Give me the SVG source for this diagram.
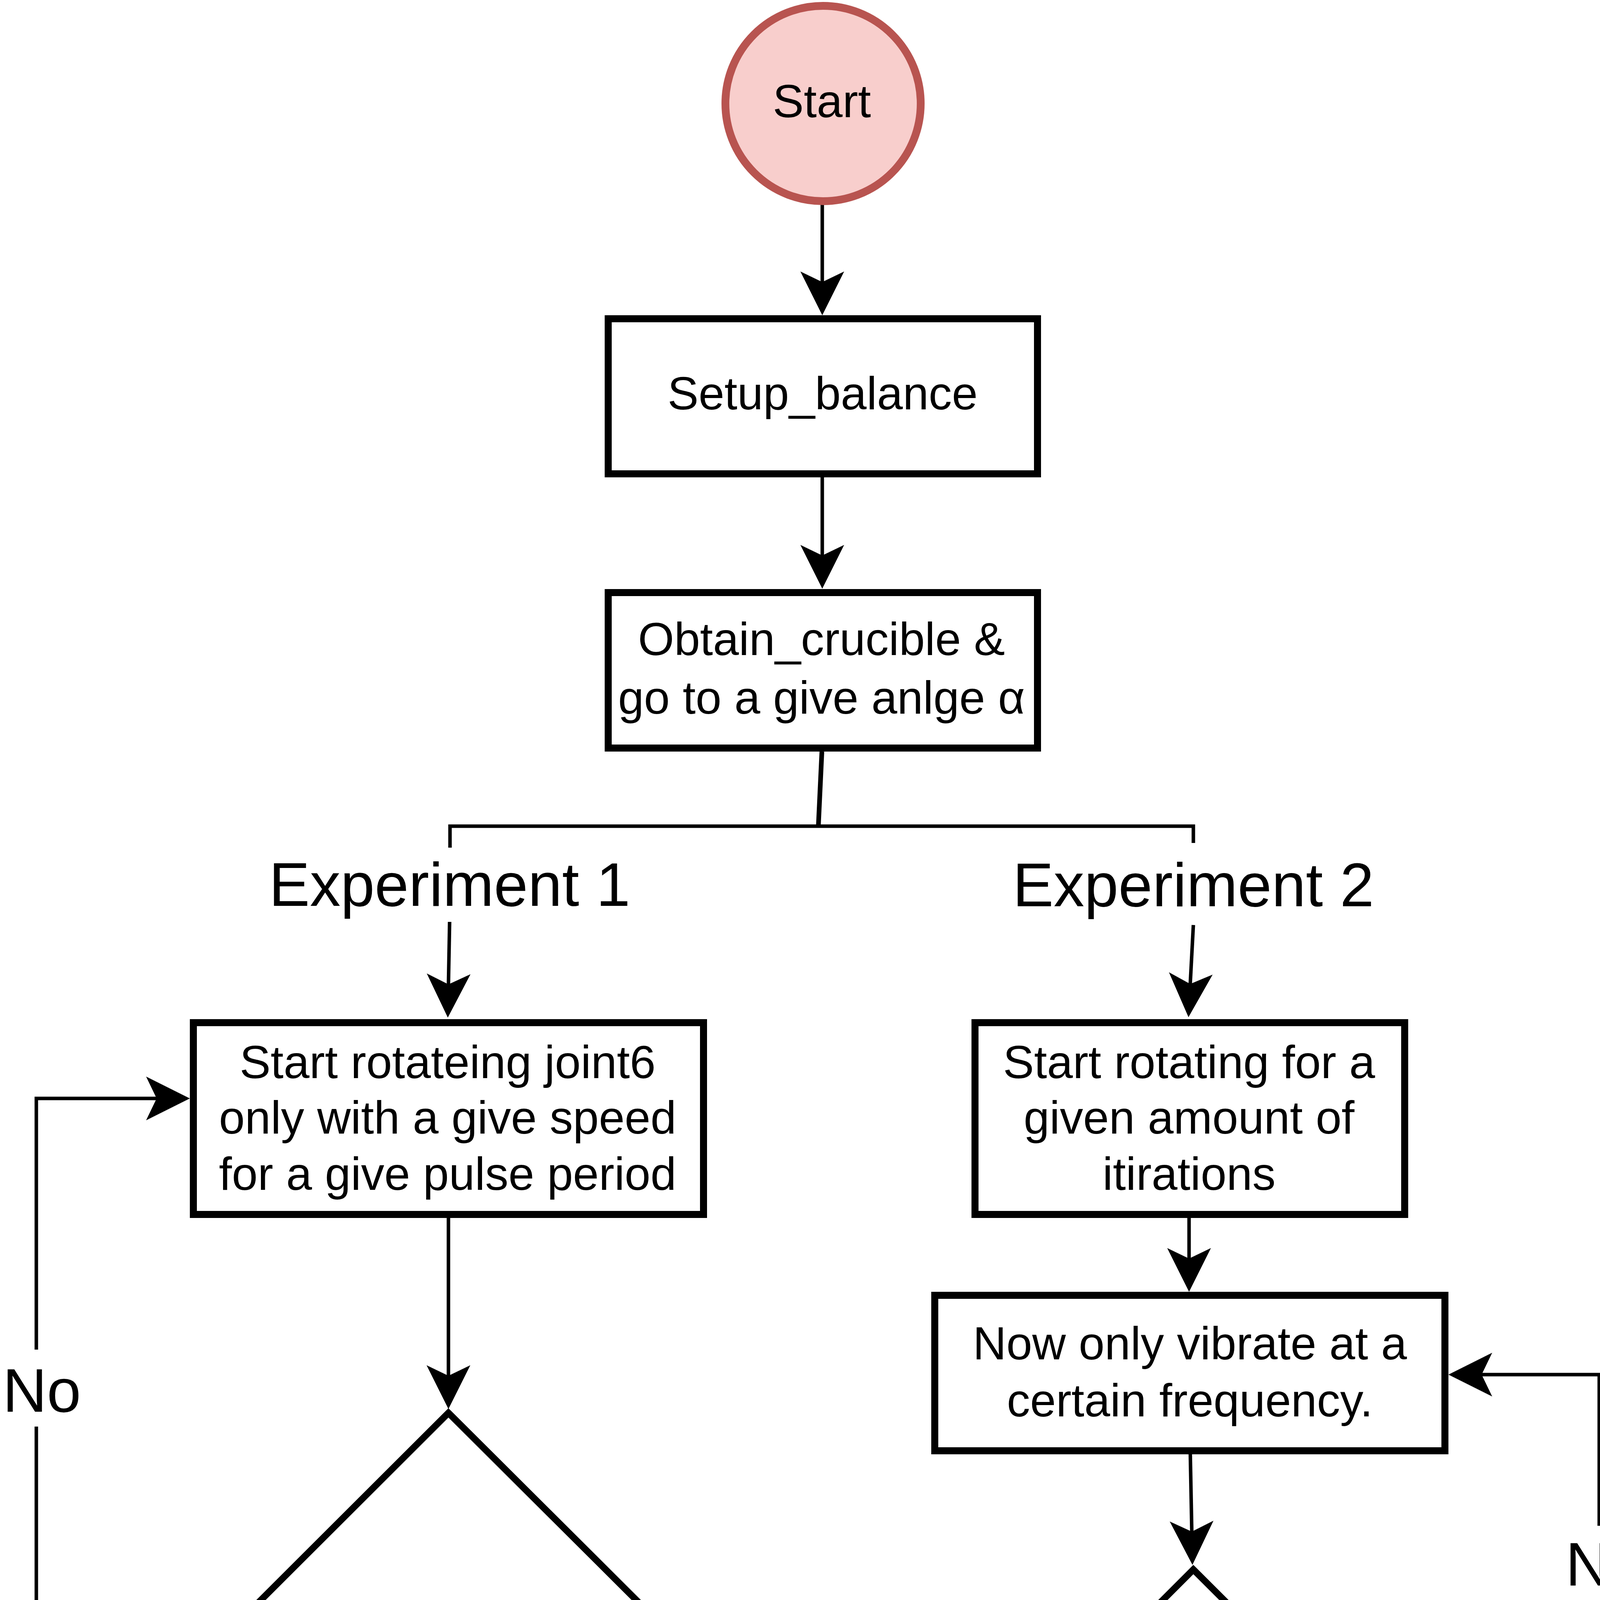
<svg xmlns="http://www.w3.org/2000/svg" width="4210" height="7020" viewBox="0 0 4210 7020">
<style>
.bg{fill:#ffffff}
.box{fill:#ffffff;stroke:#000000;stroke-width:18}
.dia{fill:#ffffff;stroke:#000000;stroke-width:17;stroke-linejoin:miter}
.term{fill:#f8cecc;stroke:#b85450;stroke-width:20}
.edge{fill:none;stroke:#000000;stroke-width:9}
.t{font-family:"Liberation Sans",Arial,sans-serif;font-size:119px;fill:#000000;text-anchor:middle}
.lbl{font-family:"Liberation Sans",Arial,sans-serif;font-size:157px;fill:#000000;text-anchor:middle}
</style>
<defs>
<marker id="arr" markerUnits="userSpaceOnUse" viewBox="-27 -56 112 112" refX="0" refY="0" markerWidth="112" markerHeight="112" orient="auto" overflow="visible">
<path d="M85,0 L-27,-56 L0,0 L-27,56 Z" fill="#000000"/>
</marker>
</defs>
<rect class="bg" x="0" y="0" width="4210" height="7020"/>

<g id="connectors">
<path class="edge" d="M2105,515 V722" marker-end="url(#arr)"/>
<path class="edge" d="M2105,1213 V1422" marker-end="url(#arr)"/>
<path class="edge" style="stroke-width:12" d="M2104,1924 L2095,2115"/>
<path class="edge" d="M1152,2170 V2115 H3055 V2158"/>
<path class="edge" d="M1151,2360 L1148,2520" marker-end="url(#arr)"/>
<path class="edge" d="M3055,2368 L3047,2519" marker-end="url(#arr)"/>
<path class="edge" d="M1148,3109 V3522" marker-end="url(#arr)"/>
<path class="edge" d="M602,4153 H93 V3652"/>
<path class="edge" d="M93,3455 V2812 H401" marker-end="url(#arr)"/>
<path class="edge" d="M1148,4687 V4808"/>
<path class="edge" d="M1148,5000 V5221" marker-end="url(#arr)"/>
<path class="edge" d="M3044,3109 V3222" marker-end="url(#arr)"/>
<path class="edge" d="M3047,3714 L3051,3921" marker-end="url(#arr)"/>
<path class="edge" d="M3601,4554 H4094 V4101"/>
<path class="edge" d="M4094,3906 V3519 H3793" marker-end="url(#arr)"/>
<path class="edge" d="M3056,5094 V5169"/>
<path class="edge" d="M3056,5360 V5463 H1665" marker-end="url(#arr)"/>
<path class="edge" d="M1148,5615 V5824" marker-end="url(#arr)"/>
<path class="edge" d="M1148,6215 V6430" marker-end="url(#arr)"/>
</g>

<g id="edge-labels">
<text class="lbl" x="1151" y="2319">Experiment 1</text>
<text class="lbl" x="3055" y="2320">Experiment 2</text>
<text class="lbl" x="107" y="3614">No</text>
<text class="lbl" x="4108" y="4059">No</text>
<text class="lbl" x="1150" y="4960">Yes</text>
<text class="lbl" x="3073" y="5320">Yes</text>
</g>

<g id="start">
<circle class="term" cx="2107" cy="265" r="250"/>
<text class="t" x="2104" y="300">Start</text>
</g>

<g id="setup_balance">
<rect class="box" x="1557" y="816" width="1099" height="397"/>
<text class="t" x="2106" y="1048">Setup_balance</text>
</g>

<g id="obtain_crucible">
<rect class="box" x="1557" y="1517" width="1099" height="398"/>
<text class="t" x="2103" y="1677">Obtain_crucible &amp;</text>
<text class="t" x="2103" y="1827">go to a give anlge α</text>
</g>

<g id="rotate_joint6">
<rect class="box" x="495" y="2618" width="1306" height="491"/>
<text class="t" x="1146" y="2760">Start rotateing joint6</text>
<text class="t" x="1146" y="2902">only with a give speed</text>
<text class="t" x="1146" y="3046">for a give pulse period</text>
</g>

<g id="check_1_8">
<polygon class="dia" points="1148,3617 1686,4153 1148,4687 611,4153"/>
<text class="t" x="1142" y="4189">Is dosed &gt;= 1.8</text>
<text class="t" x="1142" y="4337">grams?</text>
</g>

<g id="rotate_iterations">
<rect class="box" x="2496" y="2618" width="1100" height="491"/>
<text class="t" x="3044" y="2760">Start rotating for a</text>
<text class="t" x="3044" y="2902">given amount of</text>
<text class="t" x="3044" y="3046">itirations</text>
</g>

<g id="vibrate">
<rect class="box" x="2393" y="3316" width="1306" height="398"/>
<text class="t" x="3046" y="3480">Now only vibrate at a</text>
<text class="t" x="3046" y="3626">certain frequency.</text>
</g>

<g id="check_1_0">
<polygon class="dia" points="3055,4018 3592,4554 3055,5094 2519,4554"/>
<text class="t" x="3051" y="4589">Is dosed &gt;= 1.0</text>
<text class="t" x="3051" y="4737">grams?</text>
</g>

<g id="return_crucible">
<rect class="box" x="726" y="5316" width="845" height="299"/>
<text class="t" x="1146" y="5431">Return the</text>
<text class="t" x="1146" y="5577">crucible</text>
</g>

<g id="unset_balance">
<rect class="box" x="726" y="5918" width="845" height="297"/>
<text class="t" x="1146" y="6028">Unset the</text>
<text class="t" x="1146" y="6178">balance</text>
</g>

<g id="end">
<circle class="term" cx="1148" cy="6765" r="250"/>
<text class="t" x="1146" y="6801">End</text>
</g>
</svg>
